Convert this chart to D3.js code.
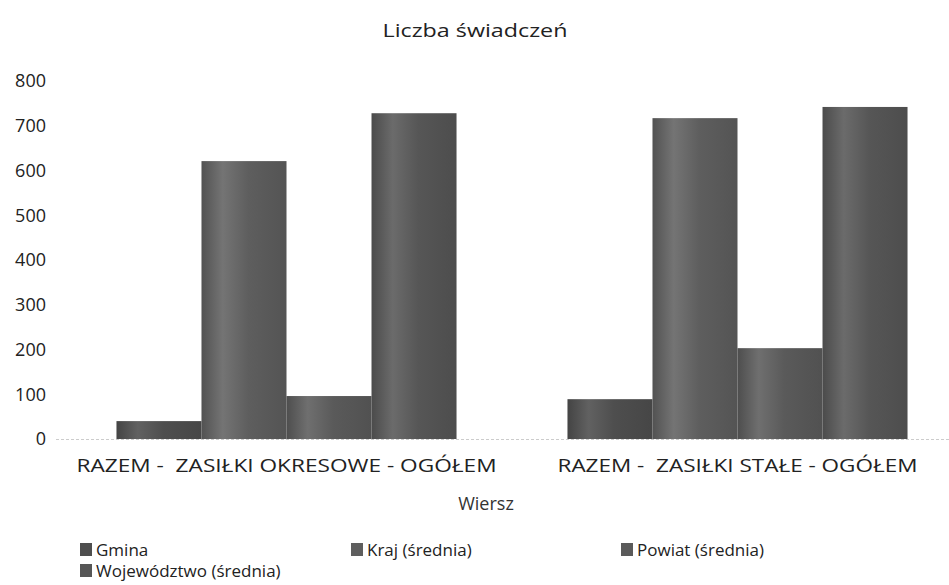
<!DOCTYPE html>
<html>
<head>
<meta charset="utf-8" />
<title>Liczba świadczeń</title>
<script src="https://d3js.org/d3.v7.min.js"></script>
<style>
  body { margin: 0; background: #fff; }
  svg { display: block; font-family: "Open Sans", "DejaVu Sans", sans-serif; }
  text { white-space: pre; }
</style>
</head>
<body>
<svg width="949" height="585"></svg>
<script>
// data
var categories = ["RAZEM -  ZASIŁKI OKRESOWE - OGÓŁEM", "RAZEM -  ZASIŁKI STAŁE - OGÓŁEM"];
var seriesNames = ["Gmina", "Kraj (średnia)", "Powiat (średnia)", "Województwo (średnia)"];
var gmina = [40, 89];
var kraj = [621, 717];
var powiat = [96, 203];
var wojewodztwo = [728, 742];
var yTicks = [0, 100, 200, 300, 400, 500, 600, 700, 800];

var values = [gmina, kraj, powiat, wojewodztwo];
var colors = ["#4e4e4e", "#5e5e5e", "#5a5a5a", "#565656"];

var svg = d3.select("svg");

// gradients to mimic the shaded bars
var defs = svg.append("defs");
colors.forEach(function (c, i) {
  var g = defs.append("linearGradient").attr("id", "grad" + i)
    .attr("x1", "0%").attr("x2", "100%").attr("y1", "0%").attr("y2", "0%");
  g.append("stop").attr("offset", "0%").attr("stop-color", d3.color(c).darker(0.4));
  g.append("stop").attr("offset", "25%").attr("stop-color", d3.color(c).brighter(0.6));
  g.append("stop").attr("offset", "55%").attr("stop-color", c);
  g.append("stop").attr("offset", "100%").attr("stop-color", d3.color(c).darker(0.3));
});

var x0 = d3.scaleBand().domain(categories).range([61, 963]).paddingInner(0.246).paddingOuter(0.123);
var x1 = d3.scaleBand().domain(seriesNames).range([0, x0.bandwidth()]);
var y = d3.scaleLinear().domain([0, 800]).range([439, 81]);

// title
svg.append("text").attr("x", 475).attr("y", 37).attr("text-anchor", "middle")
  .attr("textLength", 185).attr("lengthAdjust", "spacingAndGlyphs")
  .style("font-size", "19px").attr("fill", "#222").text("Liczba świadczeń");

// y tick labels
svg.append("g").selectAll("text").data(yTicks).enter().append("text")
  .attr("x", 46).attr("y", function (d) { return y(d); }).attr("dy", "0.35em")
  .attr("text-anchor", "end").style("font-size", "18px").attr("fill", "#222")
  .text(function (d) { return d; });

// baseline
svg.append("line").attr("x1", 56).attr("x2", 949).attr("y1", y(0) + 0.5).attr("y2", y(0) + 0.5)
  .attr("stroke", "#ccc").attr("stroke-dasharray", "3,2");

// bars
var groups = svg.append("g").selectAll("g").data(categories).enter().append("g")
  .attr("transform", function (d) { return "translate(" + x0(d) + ",0)"; });

groups.selectAll("rect")
  .data(function (d, ci) { return seriesNames.map(function (s, si) { return { s: s, si: si, v: values[si][ci] }; }); })
  .enter().append("rect")
  .attr("x", function (d) { return x1(d.s); })
  .attr("width", x1.bandwidth())
  .attr("y", function (d) { return y(d.v); })
  .attr("height", function (d) { return y(0) - y(d.v); })
  .attr("fill", function (d) { return "url(#grad" + d.si + ")"; });

// x labels
var labelWidths = [420, 360];
svg.append("g").selectAll("text").data(categories).enter().append("text")
  .attr("x", function (d) { return x0(d) + x0.bandwidth() / 2; })
  .attr("y", 472).attr("text-anchor", "middle").style("font-size", "18px").attr("fill", "#222")
  .attr("textLength", function (d, i) { return labelWidths[i]; })
  .attr("lengthAdjust", "spacingAndGlyphs")
  .text(function (d) { return d; });

// axis title
svg.append("text").attr("x", 486).attr("y", 510).attr("text-anchor", "middle")
  .style("font-size", "18px").attr("fill", "#333").text("Wiersz");

// legend
var legendPos = [[80, 550], [351, 550], [621, 550], [80, 571]];
var legend = svg.append("g").selectAll("g").data(seriesNames).enter().append("g")
  .attr("transform", function (d, i) { return "translate(" + legendPos[i][0] + "," + legendPos[i][1] + ")"; });
legend.append("rect").attr("x", 0).attr("y", -7).attr("width", 12).attr("height", 13)
  .attr("fill", function (d, i) { return colors[i]; });
legend.append("text").attr("x", 16).attr("y", 0).attr("dy", "0.35em")
  .style("font-size", "17px").attr("fill", "#222").text(function (d) { return d; });
</script>
</body>
</html>
